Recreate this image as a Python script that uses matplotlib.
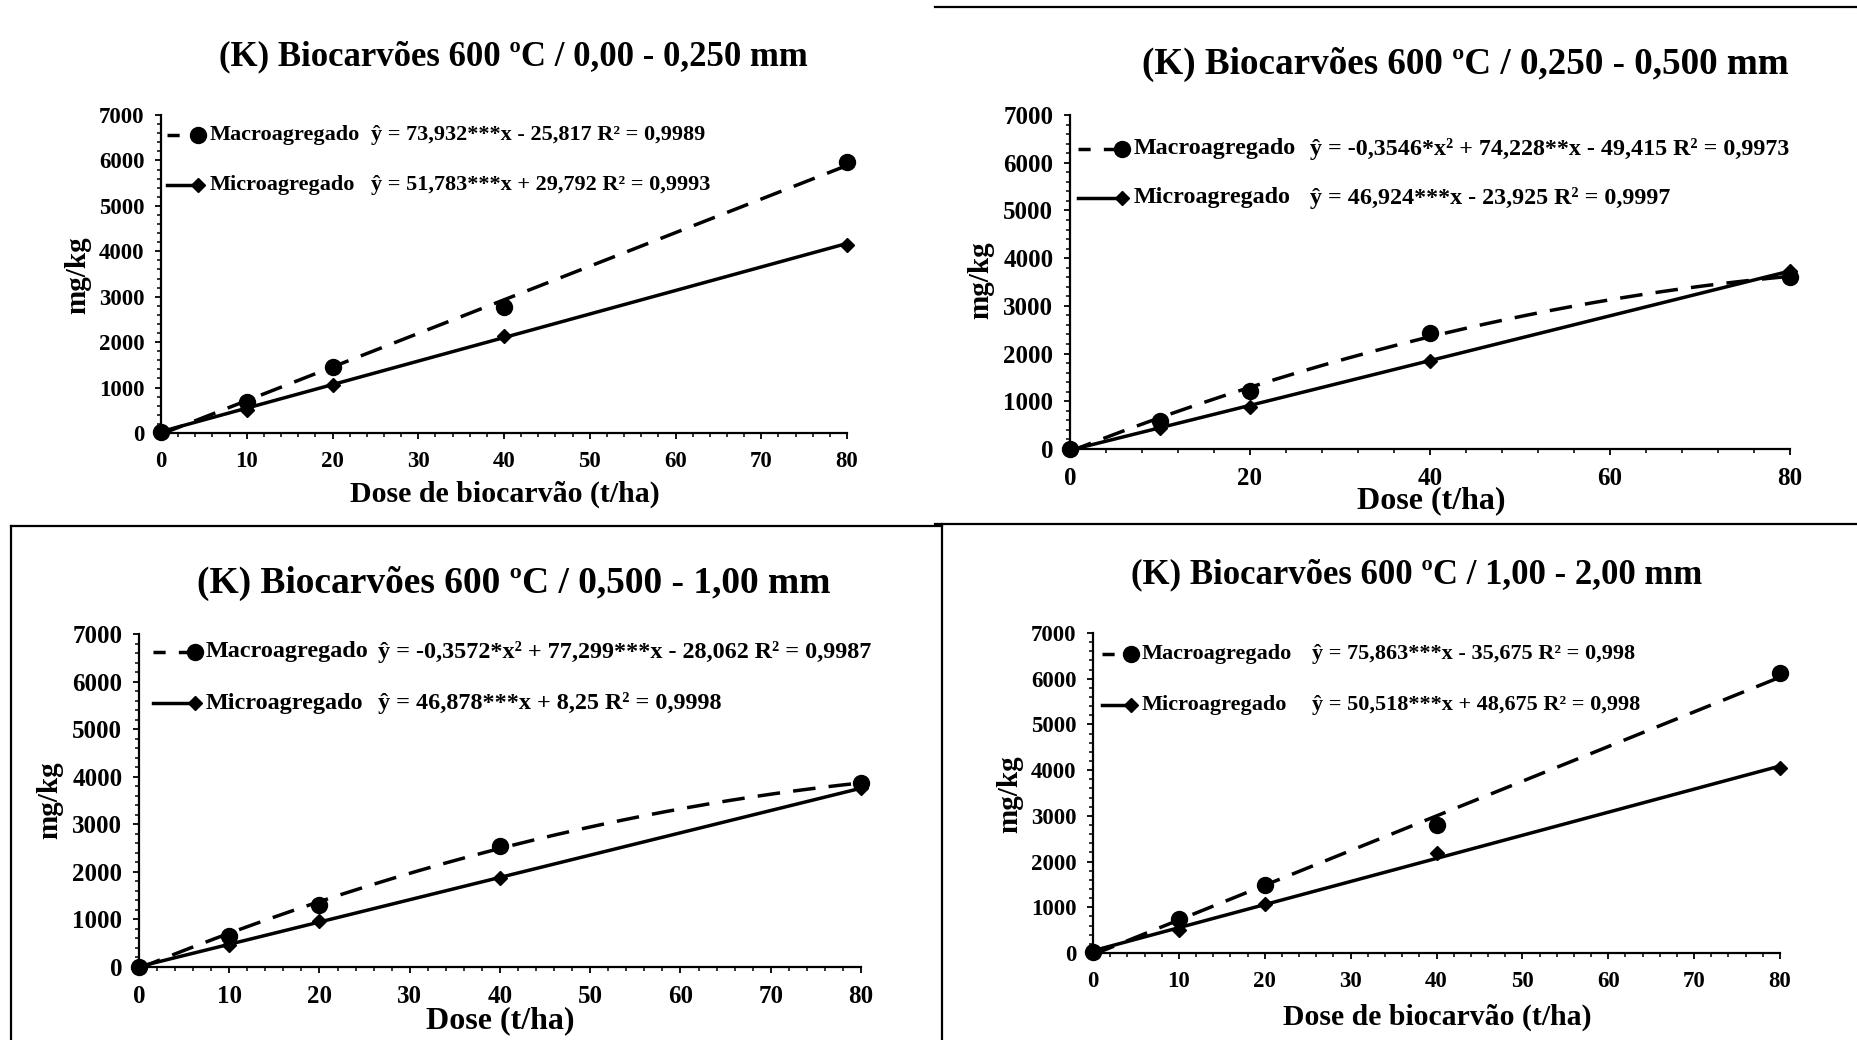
import matplotlib
matplotlib.use("Agg")
import matplotlib.pyplot as plt
from matplotlib.lines import Line2D
from matplotlib.ticker import MultipleLocator
import numpy as np

plt.rcParams["font.family"] = ["Liberation Serif", "DejaVu Serif"]
plt.rcParams["font.weight"] = "bold"

W, H = 1858, 1040

# doses (t/ha)
dose = [0, 10, 20, 40, 80]

# K (mg/kg)
macro_a = [30, 690, 1460, 2780, 5960]
micro_a = [30, 500, 1060, 2130, 4140]
macro_b = [0, 590, 1210, 2430, 3600]
micro_b = [0, 440, 890, 1845, 3740]
macro_c = [0, 660, 1300, 2540, 3870]
micro_c = [0, 470, 970, 1870, 3770]
macro_d = [30, 740, 1490, 2800, 6120]
micro_d = [30, 510, 1080, 2190, 4040]

# trend line coefficients (x^2, x, 1) as printed on the charts
fit_macro_a = [0, 73.932, -25.817]
fit_micro_a = [0, 51.783, 29.792]
fit_macro_b = [-0.3546, 74.228, -49.415]
fit_micro_b = [0, 46.924, -23.925]
fit_macro_c = [-0.3572, 77.299, -28.062]
fit_micro_c = [0, 46.878, 8.25]
fit_macro_d = [0, 75.863, -35.675]
fit_micro_d = [0, 50.518, 48.675]

titles = [
    "(K) Biocarvões 600 ºC / 0,00 - 0,250 mm",
    "(K) Biocarvões 600 ºC / 0,250 - 0,500 mm",
    "(K) Biocarvões 600 ºC / 0,500 - 1,00 mm",
    "(K) Biocarvões 600 ºC / 1,00 - 2,00 mm",
]
xlabels = ["Dose de biocarvão (t/ha)", "Dose (t/ha)", "Dose (t/ha)", "Dose de biocarvão (t/ha)"]
eq_macro = [
    "ŷ = 73,932***x - 25,817 R² = 0,9989",
    "ŷ = -0,3546*x² + 74,228**x - 49,415 R² = 0,9973",
    "ŷ = -0,3572*x² + 77,299***x - 28,062 R² = 0,9987",
    "ŷ = 75,863***x - 35,675 R² = 0,998",
]
eq_micro = [
    "ŷ = 51,783***x + 29,792 R² = 0,9993",
    "ŷ = 46,924***x - 23,925 R² = 0,9997",
    "ŷ = 46,878***x + 8,25 R² = 0,9998",
    "ŷ = 50,518***x + 48,675 R² = 0,998",
]

# layout in pixels of the 1858x1040 canvas, plus font sizes per panel
panels = [
    dict(macro=macro_a, micro=micro_a, fm=fit_macro_a, fu=fit_micro_a,
         box=(161, 847, 115, 433), xstep=10, xminor=2,
         title=(513, 57, 25), xlab=(505, 494, 21.5), ylab=(78, 275),
         leg=(167, 198, 210, 371, 135, 185), fs=16, tk=16.5),
    dict(macro=macro_b, micro=micro_b, fm=fit_macro_b, fu=fit_micro_b,
         box=(1070, 1790, 115, 449), xstep=20, xminor=4,
         title=(1465, 64, 26.7), xlab=(1431, 501, 23), ylab=(981, 280),
         leg=(1078, 1122, 1134, 1310, 149, 198), fs=17.3, tk=18),
    dict(macro=macro_c, micro=micro_c, fm=fit_macro_c, fu=fit_micro_c,
         box=(139, 861, 634, 967), xstep=10, xminor=2,
         title=(514, 583, 27), xlab=(500, 1021, 23), ylab=(50, 800),
         leg=(153, 195, 206, 378, 652, 703), fs=17.4, tk=18),
    dict(macro=macro_d, micro=micro_d, fm=fit_macro_d, fu=fit_micro_d,
         box=(1093, 1780, 633, 953), xstep=10, xminor=2,
         title=(1417, 575, 25), xlab=(1437, 1017, 21.4), ylab=(1010, 794),
         leg=(1102, 1131, 1142, 1312, 654, 705), fs=16, tk=16.5),
]

DASH = (0, (6.5, 3.8))
MS_CIRCLE = 11.5
MS_DIAMOND = 7.3


def fx(x):
    return x / W


def fy(y):
    return 1 - y / H


fig = plt.figure(figsize=(W / 100, H / 100), dpi=100, facecolor="white")

xs = np.linspace(0, 80, 200)

for i, p in enumerate(panels):
    x0, x1, ytop, ybot = p["box"]
    ax = fig.add_axes([fx(x0), fy(ybot), (x1 - x0) / W, (ybot - ytop) / H])

    ax.plot(xs, np.polyval(p["fm"], xs), color="black", lw=2.5, linestyle=DASH)
    ax.plot(xs, np.polyval(p["fu"], xs), color="black", lw=2.5)
    ax.plot(dose, p["macro"], linestyle="none", marker="o", ms=MS_CIRCLE,
            color="black", clip_on=False, zorder=5)
    ax.plot(dose, p["micro"], linestyle="none", marker="D", ms=MS_DIAMOND,
            color="black", clip_on=False, zorder=5)

    ax.set_xlim(0, 80)
    ax.set_ylim(0, 7000)
    ax.xaxis.set_major_locator(MultipleLocator(p["xstep"]))
    ax.xaxis.set_minor_locator(MultipleLocator(p["xminor"]))
    ax.yaxis.set_major_locator(MultipleLocator(1000))
    ax.yaxis.set_minor_locator(MultipleLocator(200))
    ax.tick_params(which="major", direction="out", length=4, width=1.3,
                   labelsize=p["tk"], pad=9)
    ax.tick_params(which="minor", direction="out", length=3.2, width=1.1)
    ax.tick_params(axis="y", which="major", pad=8)
    for side in ("top", "right"):
        ax.spines[side].set_visible(False)
    for side in ("left", "bottom"):
        ax.spines[side].set_linewidth(1.6)

    tx, ty, ts = p["title"]
    fig.text(fx(tx), fy(ty), titles[i], ha="center", va="center",
             fontsize=ts, fontweight="bold")
    lx, ly, ls = p["xlab"]
    fig.text(fx(lx), fy(ly), xlabels[i], ha="center", va="center",
             fontsize=ls, fontweight="bold")
    fig.text(fx(p["ylab"][0]), fy(p["ylab"][1]), "mg/kg", ha="center",
             va="center", rotation=90, fontsize=21, fontweight="bold")

    # legend keys: line ending in the marker, then name and equation
    lx0, lx1, ltx, lex, ly1, ly2 = p["leg"]
    ax.add_line(Line2D([fx(lx0), fx(lx1)], [fy(ly1), fy(ly1)], color="black",
                       lw=2.5, linestyle=(0, (3.5, 3.8)),
                       transform=fig.transFigure, clip_on=False))
    ax.add_line(Line2D([fx(lx1)], [fy(ly1)], marker="o", ms=MS_CIRCLE,
                       color="black", transform=fig.transFigure, clip_on=False))
    ax.add_line(Line2D([fx(lx0), fx(lx1)], [fy(ly2), fy(ly2)], color="black",
                       lw=2.5, transform=fig.transFigure, clip_on=False))
    ax.add_line(Line2D([fx(lx1)], [fy(ly2)], marker="D", ms=MS_DIAMOND,
                       color="black", transform=fig.transFigure, clip_on=False))
    fig.text(fx(ltx), fy(ly1), "Macroagregado", ha="left", va="center",
             fontsize=p["fs"], fontweight="bold")
    fig.text(fx(ltx), fy(ly2), "Microagregado", ha="left", va="center",
             fontsize=p["fs"], fontweight="bold")
    fig.text(fx(lex), fy(ly1), eq_macro[i], ha="left", va="center",
             fontsize=p["fs"], fontweight="bold")
    fig.text(fx(lex), fy(ly2), eq_micro[i], ha="left", va="center",
             fontsize=p["fs"], fontweight="bold")

# frame lines left over from the pasted chart boxes
frame = [
    ((935, 7), (1858, 7)),
    ((11, 526), (942, 526)),
    ((935, 524), (1858, 524)),
    ((11, 526), (11, 1040)),
    ((942, 524), (942, 1040)),
]
for (xa, ya), (xb, yb) in frame:
    fig.add_artist(Line2D([fx(xa), fx(xb)], [fy(ya), fy(yb)], color="black",
                          lw=1.6, transform=fig.transFigure))

fig.savefig("out.png", dpi=100, facecolor="white")
